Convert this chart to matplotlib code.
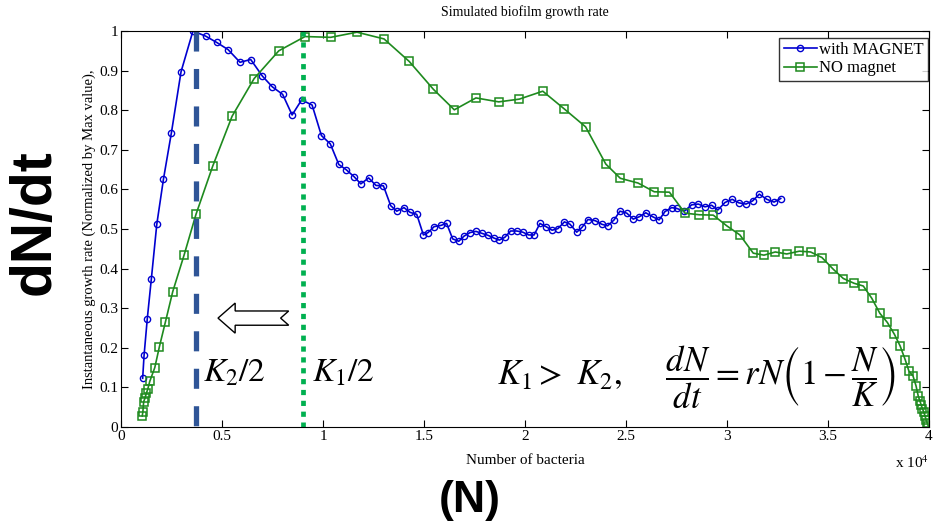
import numpy as np
import matplotlib.pyplot as plt
from matplotlib.patches import Polygon

plt.rcParams['font.family'] = ['Liberation Serif', 'DejaVu Serif']
plt.rcParams['mathtext.fontset'] = 'stix'

# with magnet (x in units of 1e4 bacteria)
mag_x = [0.107, 0.114, 0.130, 0.150, 0.177, 0.210, 0.249, 0.297, 0.356, 0.419, 0.474, 0.530,
         0.589, 0.642, 0.700, 0.749, 0.800, 0.847, 0.894, 0.946, 0.992, 1.036, 1.078, 1.114,
         1.154, 1.187, 1.226, 1.262, 1.299, 1.335, 1.365, 1.401, 1.431, 1.464, 1.497, 1.520,
         1.550, 1.583, 1.612, 1.642, 1.672, 1.698, 1.728, 1.757, 1.787, 1.817, 1.847, 1.873,
         1.900, 1.929, 1.959, 1.989, 2.018, 2.045, 2.074, 2.104, 2.134, 2.163, 2.195, 2.223,
         2.256, 2.282, 2.312, 2.348, 2.380, 2.409, 2.441, 2.470, 2.504, 2.536, 2.566, 2.598,
         2.632, 2.664, 2.693, 2.726, 2.751, 2.789, 2.825, 2.858, 2.891, 2.924, 2.955, 2.990,
         3.026, 3.059, 3.094, 3.127, 3.160, 3.197, 3.233, 3.266]
mag_y = [0.123, 0.181, 0.274, 0.374, 0.512, 0.626, 0.742, 0.897, 1.000, 0.987, 0.971, 0.953,
         0.921, 0.928, 0.886, 0.859, 0.840, 0.788, 0.826, 0.813, 0.736, 0.715, 0.663, 0.650,
         0.632, 0.614, 0.629, 0.610, 0.609, 0.559, 0.545, 0.554, 0.542, 0.537, 0.485, 0.491,
         0.506, 0.509, 0.514, 0.475, 0.469, 0.482, 0.491, 0.494, 0.489, 0.484, 0.477, 0.472,
         0.479, 0.495, 0.495, 0.492, 0.485, 0.485, 0.514, 0.506, 0.497, 0.501, 0.518, 0.512,
         0.492, 0.504, 0.524, 0.521, 0.512, 0.508, 0.523, 0.545, 0.540, 0.525, 0.531, 0.541,
         0.531, 0.523, 0.544, 0.554, 0.552, 0.545, 0.561, 0.563, 0.556, 0.560, 0.548, 0.567,
         0.575, 0.566, 0.563, 0.571, 0.588, 0.575, 0.568, 0.577]

# no magnet
nomag_x = [0.105, 0.108, 0.112, 0.118, 0.125, 0.132, 0.142, 0.167, 0.190, 0.220, 0.256, 0.312,
           0.371, 0.454, 0.550, 0.659, 0.781, 0.911, 1.038, 1.168, 1.302, 1.427, 1.546, 1.650,
           1.757, 1.870, 1.972, 2.088, 2.195, 2.300, 2.400, 2.472, 2.560, 2.640, 2.715, 2.792,
           2.863, 2.932, 2.999, 3.064, 3.130, 3.183, 3.239, 3.296, 3.358, 3.414, 3.470, 3.527,
           3.576, 3.629, 3.675, 3.717, 3.757, 3.794, 3.829, 3.857, 3.883, 3.901, 3.921, 3.936,
           3.947, 3.955, 3.962, 3.968, 3.974, 3.980, 3.986, 3.992, 3.997]
nomag_y = [0.028, 0.038, 0.064, 0.072, 0.085, 0.095, 0.115, 0.150, 0.203, 0.266, 0.342, 0.434,
           0.537, 0.659, 0.785, 0.880, 0.950, 0.986, 0.984, 0.997, 0.980, 0.923, 0.853, 0.801,
           0.831, 0.821, 0.828, 0.848, 0.803, 0.758, 0.664, 0.628, 0.616, 0.594, 0.593, 0.540,
           0.536, 0.535, 0.508, 0.485, 0.439, 0.434, 0.442, 0.437, 0.444, 0.442, 0.428, 0.398,
           0.375, 0.363, 0.356, 0.325, 0.287, 0.264, 0.234, 0.205, 0.169, 0.141, 0.129, 0.104,
           0.078, 0.066, 0.055, 0.046, 0.038, 0.029, 0.018, 0.009, 0.002]

K2_half = 0.371
K1_half = 0.902

fig = plt.figure(figsize=(9.34, 5.21), dpi=100)
ax = fig.add_axes([0.1296, 0.1804, 0.865, 0.7601])

ax.plot(mag_x, mag_y, '-o', color='#0000d0', lw=1.2, ms=4.5, mfc='none', mew=1.0,
        label='with MAGNET')
ax.plot(nomag_x, nomag_y, '-s', color='#1e8a1e', lw=1.2, ms=5.5, mfc='none', mew=1.1,
        label='NO magnet')

ax.plot([K2_half, K2_half], [1, 0], color='#2f5597', lw=3.8, ls=(0, (3.8, 3.3)))
ax.plot([K1_half, K1_half], [1, 0], color='#00b050', lw=3.4, ls=(0, (1.1, 1.2)))

ax.set_xlim(0, 4)
ax.set_ylim(0, 1)
ax.set_xticks(np.arange(0, 4.01, 0.5))
ax.set_xticklabels(['0', '0.5', '1', '1.5', '2', '2.5', '3', '3.5', '4'])
ax.set_yticks(np.arange(0, 1.01, 0.1))
ax.set_yticklabels(['0', '0.1', '0.2', '0.3', '0.4', '0.5', '0.6', '0.7', '0.8', '0.9', '1'])
ax.tick_params(direction='in', top=True, right=True, labelsize=11, length=5, pad=2)

ax.set_title('Simulated biofilm growth rate', fontsize=10, pad=11)
ax.set_xlabel('Number of bacteria', fontsize=11, labelpad=8)
ax.set_ylabel('Instantaneous growth rate (Normalized by Max value),', fontsize=10.5, labelpad=2)
ax.text(1.0, -0.07, r'x 10$^4$', transform=ax.transAxes, ha='right', va='top', fontsize=11)

leg = ax.legend(loc='upper right', bbox_to_anchor=(0.999, 0.983), fontsize=12,
                frameon=True, fancybox=False, edgecolor='black', borderpad=0.25,
                handlelength=2.0, handletextpad=0.15, labelspacing=0.15, borderaxespad=0)
leg.get_frame().set_linewidth(1.0)

# hollow arrow pointing from K1/2 toward K2/2
ay, ah, hw, hl = 0.275, 0.018, 0.038, 0.085
x0, x1 = 0.48, 0.83
arrow = Polygon([(x0, ay), (x0 + hl, ay + hw), (x0 + hl, ay + ah), (x1, ay + ah),
                 (x1 - 0.04, ay), (x1, ay - ah), (x0 + hl, ay - ah), (x0 + hl, ay - hw)],
                closed=True, fc='white', ec='black', lw=1.0)
ax.add_patch(arrow)

ax.text(0.405, 0.135, r'$K_2/2$', fontsize=24, va='center')
ax.text(0.945, 0.135, r'$K_1/2$', fontsize=24, va='center')
ax.text(1.86, 0.125,
        r'$K_1 >\ K_2,\quad\;\; \dfrac{dN}{dt} = rN\left(1-\dfrac{N}{K}\right)$',
        fontsize=25, va='center')

fig.text(0.037, 0.574, 'dN/dt', rotation=90, fontsize=41, fontweight='bold',
         family='Liberation Sans', ha='center', va='center')
fig.text(0.503, 0.04, '(N)', fontsize=32, fontweight='bold',
         family='Liberation Sans', ha='center', va='center')

fig.savefig('out.png', dpi=100)
